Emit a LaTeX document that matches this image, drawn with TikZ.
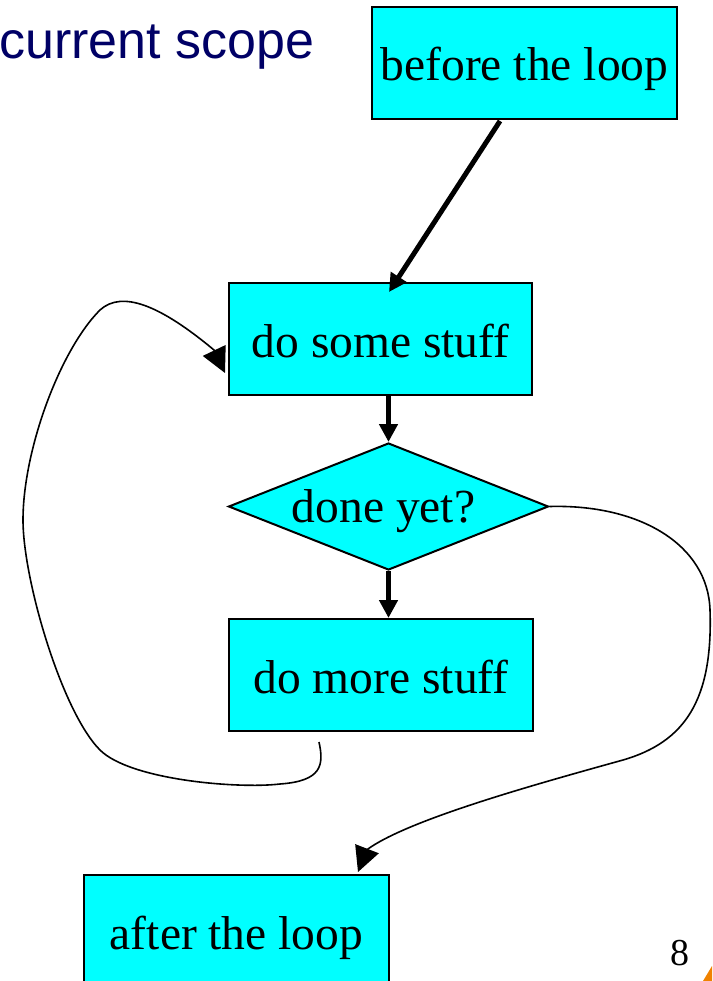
\documentclass[tikz,border=0pt]{standalone}
\usepackage{fontspec}
\setmainfont{Liberation Serif}
\newfontfamily\headsans{Liberation Sans}
\usetikzlibrary{shapes.geometric,arrows.meta,calc}
\definecolor{boxcyan}{RGB}{0,255,255}
\definecolor{titlenavy}{RGB}{0,0,102}
\definecolor{cornerorange}{RGB}{240,130,0}
\begin{document}
\begin{tikzpicture}[x=1pt,y=-1pt,
  flowbox/.style={draw=black, line width=2pt, fill=boxcyan, rectangle,
    minimum width=305pt, minimum height=112pt, inner sep=0pt,
    text height=36pt, text depth=0pt, font=\fontsize{47.5}{57}\selectfont},
  decision/.style={draw=black, line width=2pt, fill=boxcyan, diamond,
    aspect=2.52, minimum width=320pt, minimum height=127pt, inner sep=0pt,
    text height=31pt, text depth=0pt, font=\fontsize{47.5}{57}\selectfont},
  thickarrow/.style={line width=5pt, -{Triangle[length=18pt,width=18pt]}},
  thinarrow/.style={line width=1.6pt, -{Triangle[length=25pt,width=25pt]}},
]
\useasboundingbox (0,0) rectangle (712,981);

% title fragment
\node[anchor=base west, inner sep=0pt, text=titlenavy,
  font=\headsans\fontsize{52}{60}\selectfont] (title) at (-1,59) {current scope};

% nodes
\node[flowbox] (before) at (524.5,63) {before the loop};
\node[flowbox, minimum width=303pt] (dosome) at (380.5,339) {do some stuff};
\node[decision] (dn) at (388.5,506.5) {\hspace*{-10pt}done yet?};
\node[flowbox, minimum width=304pt] (domore) at (381,675) {do more stuff};
\node[flowbox] (after) at (236.5,931) {after the loop};

% page number and corner
\node[anchor=base, inner sep=0pt, font=\fontsize{38}{44}\selectfont] (pagenum) at (680,965) {8};
\fill[cornerorange] (712,966) -- (712,981) -- (703,981) -- cycle;

% helper coordinates
\coordinate (t1s) at ($(before.south)+(-24.5,1)$);
\coordinate (t1e) at ($(dosome.north)+(8.5,10)$);
\coordinate (lstart) at ($(domore.south)+(-62,10)$);
\coordinate (ltip) at ($(dosome.west)+(-3,34)$);
\coordinate (rtip) at ($(after.north east)+(-32,-2)$);

% thick arrows
\draw[thickarrow] (t1s) -- (t1e);
\draw[thickarrow] (dosome.south -| dn.north) -- (dn.north);
\draw[thickarrow] (dn.south) -- (dn.south |- domore.north);

% loop back curve
\draw[thinarrow] (lstart)
  .. controls (324,765) and (322,781) .. (280,784)
  .. controls (238,789) and (130,780) .. (100,750)
  .. controls (62,712) and (23,580) .. (23,520)
  .. controls (23,450) and (60,350) .. (100,310)
  .. controls (122,290) and (160,305) .. (214,350)
  -- (ltip);

% exit curve
\draw[thinarrow] (dn.east)
  .. controls (640,504) and (708,545) .. (710,610)
  .. controls (713,700) and (685,742) .. (623,760)
  .. controls (533,785) and (407,820) .. (366.5,850)
  -- (rtip);
\end{tikzpicture}
\end{document}
